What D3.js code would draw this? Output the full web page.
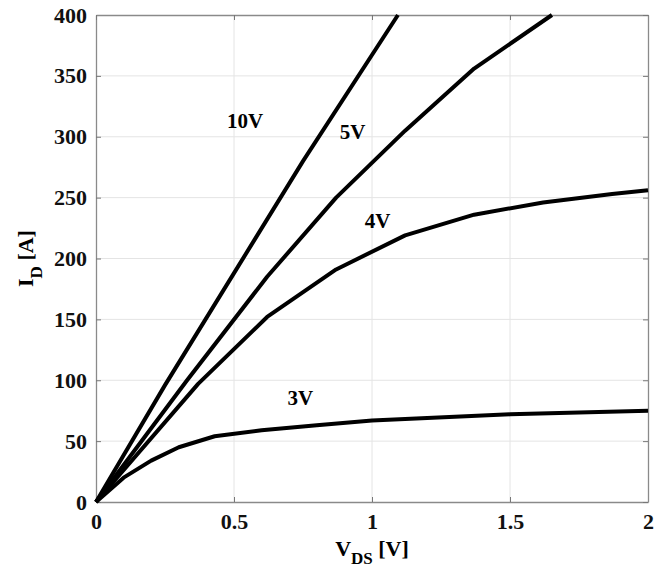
<!DOCTYPE html>
<html>
<head>
<meta charset="utf-8">
<script src="https://cdn.jsdelivr.net/npm/d3@7"></script>
<style>
  body { margin: 0; background: #fff; }
  text { font-family: "Liberation Serif", "Times New Roman", serif; font-weight: bold; }
</style>
</head>
<body>
<svg id="chart" width="660" height="569"></svg>
<script>
// output characteristics, I_D [A] vs V_DS [V] for several V_GS
var xTicks = [0, 0.5, 1, 1.5, 2];
var yTicks = [0, 50, 100, 150, 200, 250, 300, 350, 400];

var vgs10 = [[0, 0], [0.25, 96], [0.5, 188], [0.75, 280], [1.094, 400]];
var vgs5 = [[0, 0], [0.33, 100], [0.62, 185], [0.87, 250], [1.12, 305], [1.37, 356], [1.652, 400]];
var vgs4 = [[0, 0], [0.37, 97], [0.62, 152], [0.87, 191], [1.12, 219], [1.37, 236], [1.62, 246], [1.87, 253], [2, 256]];
var vgs3 = [[0, 0], [0.1, 20], [0.2, 34], [0.3, 45], [0.43, 54], [0.6, 59], [0.8, 63], [1.0, 67], [1.5, 72], [2, 75]];

var curves = [
    { name: '10V', pts: vgs10, lx: 0.54, ly: 307 },
    { name: '5V', pts: vgs5, lx: 0.93, ly: 298 },
    { name: '4V', pts: vgs4, lx: 1.02, ly: 225 },
    { name: '3V', pts: vgs3, lx: 0.74, ly: 80 }
];

var svg = d3.select('#chart');
var plotL = 96, plotR = 648, plotT = 15, plotB = 502;

var x = d3.scaleLinear().domain([0, 2]).range([plotL, plotR]);
var y = d3.scaleLinear().domain([0, 400]).range([plotB, plotT]);

// grid
var grid = svg.append('g').attr('class', 'grid');
grid.selectAll('.gx').data(xTicks.slice(1, -1)).enter().append('line')
    .attr('x1', d => x(d)).attr('x2', d => x(d))
    .attr('y1', plotT).attr('y2', plotB)
    .attr('stroke', '#e4e4e4').attr('stroke-width', 1);
grid.selectAll('.gy').data(yTicks.slice(1, -1)).enter().append('line')
    .attr('x1', plotL).attr('x2', plotR)
    .attr('y1', d => y(d)).attr('y2', d => y(d))
    .attr('stroke', '#e4e4e4').attr('stroke-width', 1);

// axes with inward ticks
function styleAxis(g) {
    g.select('.domain').attr('stroke', '#8a8a8a').attr('stroke-width', 1.3);
    g.selectAll('.tick line').attr('stroke', '#777');
    g.selectAll('.tick text').attr('fill', '#111').style('font-size', '22px');
}

svg.append('g').attr('transform', 'translate(0,' + plotB + ')')
    .call(d3.axisBottom(x).tickValues(xTicks).tickFormat(d3.format('')).tickSizeInner(-5).tickSizeOuter(0).tickPadding(11))
    .call(styleAxis);
svg.append('g').attr('transform', 'translate(' + plotL + ',0)')
    .call(d3.axisLeft(y).tickValues(yTicks).tickSizeInner(-5).tickSizeOuter(0).tickPadding(9))
    .call(styleAxis);
svg.append('g').attr('transform', 'translate(0,' + plotT + ')')
    .call(d3.axisTop(x).tickValues(xTicks).tickFormat('').tickSizeInner(-5).tickSizeOuter(0))
    .call(styleAxis);
svg.append('g').attr('transform', 'translate(' + plotR + ',0)')
    .call(d3.axisRight(y).tickValues(yTicks).tickFormat('').tickSizeInner(-5).tickSizeOuter(0))
    .call(styleAxis);

// curves
var line = d3.line().x(d => x(d[0])).y(d => y(d[1]));
svg.append('g').selectAll('path').data(curves).enter().append('path')
    .attr('d', d => line(d.pts))
    .attr('fill', 'none')
    .attr('stroke', '#000')
    .attr('stroke-width', 4)
    .attr('stroke-linejoin', 'round');

svg.append('g').selectAll('text').data(curves).enter().append('text')
    .attr('x', d => x(d.lx)).attr('y', d => y(d.ly))
    .attr('text-anchor', 'middle')
    .style('font-size', '21px')
    .text(d => d.name);

// axis titles
var xt = svg.append('text').attr('x', x(1)).attr('y', 556)
    .attr('text-anchor', 'middle').style('font-size', '22px');
xt.append('tspan').text('V');
xt.append('tspan').attr('dy', 8).style('font-size', '17px').text('DS');
xt.append('tspan').attr('dy', -8).text(' [V]');

var yt = svg.append('text').attr('transform', 'translate(33,' + y(200) + ') rotate(-90)')
    .attr('text-anchor', 'middle').style('font-size', '22px');
yt.append('tspan').text('I');
yt.append('tspan').attr('dy', 9).style('font-size', '17px').text('D');
yt.append('tspan').attr('dy', -9).text(' [A]');
</script>
</body>
</html>
